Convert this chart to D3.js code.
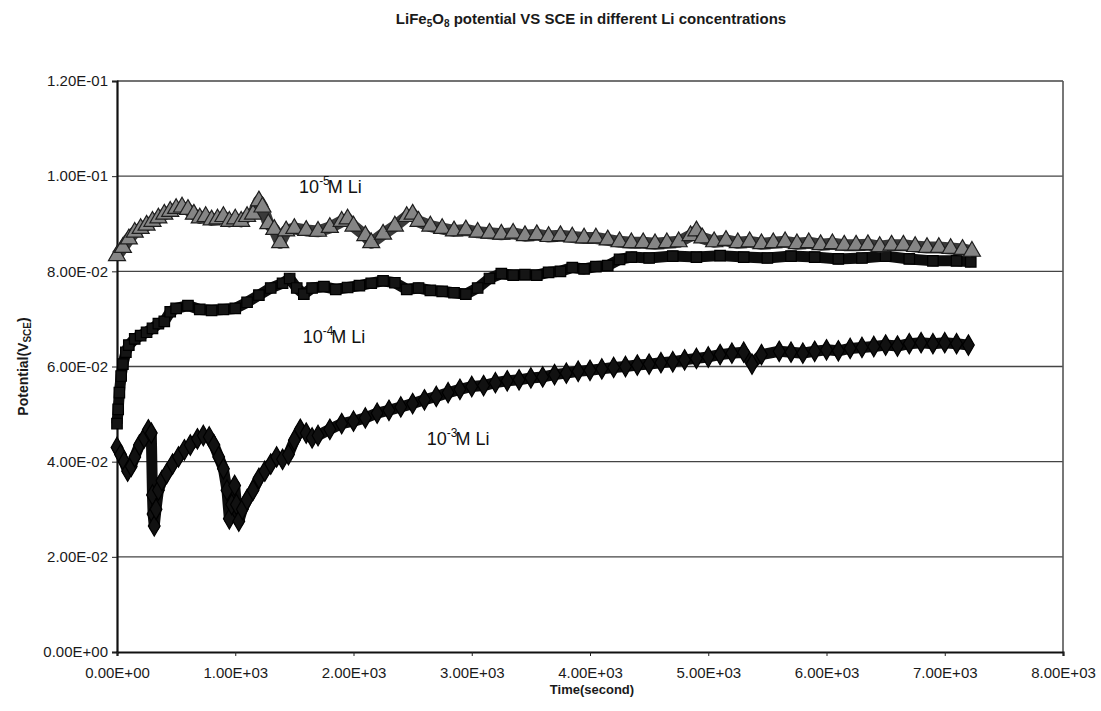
<!DOCTYPE html>
<html>
<head>
<meta charset="utf-8">
<script src="https://cdn.jsdelivr.net/npm/d3@7"></script>
<style>
  body { margin: 0; background: #fff; }
  svg { font-family: "Liberation Sans", Arial, sans-serif; }
</style>
</head>
<body>
<div id="chart"></div>
<script>
// x ticks (seconds) and y ticks (volts)
const xTicks = [0, 1000, 2000, 3000, 4000, 5000, 6000, 7000, 8000];
const yTicks = [0, 0.02, 0.04, 0.06, 0.08, 0.10, 0.12];

// 10^-5 M Li (grey triangles)
const t5 = [0,50,100,150,200,250,300,350,400,450,500,550,600,650,700,750,800,850,900,950,1000,1050,1100,1150,1200,1230,1280,1330,1380,1430,1500,1600,1700,1800,1900,1950,2000,2100,2150,2250,2350,2450,2500,2550,2650,2750,2850,2950,3050,3150,3250,3350,3450,3550,3650,3750,3850,3950,4050,4150,4250,4350,4450,4550,4650,4750,4850,4900,4950,5050,5150,5250,5350,5450,5550,5650,5750,5850,5950,6050,6150,6250,6350,6450,6550,6650,6750,6850,6950,7050,7150,7230];
const v5 = [0.0833,0.085,0.0868,0.0882,0.089,0.0897,0.0905,0.0912,0.092,0.0926,0.0932,0.0935,0.093,0.092,0.0912,0.0915,0.0908,0.091,0.0915,0.0905,0.091,0.0905,0.0915,0.092,0.0948,0.0935,0.09,0.0888,0.086,0.0885,0.089,0.0886,0.0884,0.0892,0.0905,0.091,0.0895,0.0875,0.086,0.0878,0.0895,0.0915,0.092,0.0905,0.0895,0.089,0.0885,0.0887,0.0882,0.088,0.0878,0.088,0.0875,0.0877,0.0873,0.0875,0.0872,0.087,0.087,0.0866,0.0862,0.086,0.086,0.0858,0.086,0.0862,0.0875,0.0885,0.087,0.0862,0.0865,0.086,0.0862,0.0858,0.086,0.0862,0.0858,0.086,0.0856,0.0858,0.0855,0.0855,0.0856,0.0852,0.0855,0.0855,0.0852,0.085,0.085,0.0848,0.0846,0.0842];

// 10^-4 M Li (black squares)
const t4 = [0,10,20,35,50,75,100,150,200,250,300,350,400,450,500,600,700,800,900,1000,1100,1200,1300,1400,1460,1520,1580,1650,1750,1850,1950,2050,2150,2250,2350,2450,2550,2650,2750,2850,2950,3050,3150,3250,3350,3450,3550,3650,3750,3850,3950,4050,4150,4250,4350,4500,4700,4900,5100,5300,5500,5700,5900,6100,6300,6500,6700,6900,7100,7220];
const v4 = [0.048,0.051,0.0545,0.058,0.0605,0.063,0.0645,0.0658,0.0665,0.0672,0.068,0.069,0.0695,0.0715,0.0722,0.0728,0.072,0.0718,0.072,0.0722,0.0735,0.075,0.0765,0.0775,0.0785,0.0765,0.0752,0.0765,0.0768,0.0762,0.0766,0.077,0.0775,0.078,0.0776,0.0762,0.0765,0.076,0.0758,0.0755,0.0752,0.0765,0.0785,0.0795,0.0792,0.0793,0.0792,0.0798,0.08,0.0808,0.0805,0.081,0.0812,0.0825,0.083,0.0828,0.0832,0.083,0.0833,0.083,0.0828,0.0832,0.083,0.0826,0.0828,0.0832,0.0826,0.0822,0.0822,0.082];

// 10^-3 M Li (black diamonds)
const t3 = [0,30,60,90,120,150,190,230,265,290,300,305,315,330,350,380,420,470,520,570,620,680,730,780,820,860,900,930,950,970,995,1010,1030,1060,1100,1150,1200,1250,1300,1350,1400,1450,1500,1550,1600,1650,1700,1800,1900,2000,2100,2200,2300,2400,2500,2600,2700,2800,2900,3000,3100,3200,3300,3400,3500,3600,3700,3800,3900,4000,4100,4200,4300,4400,4500,4600,4700,4800,4900,5000,5100,5200,5300,5370,5450,5600,5700,5800,5900,6000,6100,6200,6300,6400,6500,6600,6700,6800,6900,7000,7100,7200];
const v3 = [0.043,0.0415,0.04,0.038,0.039,0.041,0.0435,0.045,0.0467,0.046,0.033,0.029,0.0265,0.03,0.034,0.036,0.0375,0.0395,0.041,0.0425,0.0435,0.0448,0.0455,0.0452,0.0435,0.041,0.0385,0.034,0.028,0.031,0.035,0.031,0.0275,0.03,0.032,0.034,0.0365,0.038,0.0395,0.041,0.0405,0.0415,0.0445,0.0468,0.046,0.045,0.0455,0.0468,0.048,0.0485,0.0492,0.0502,0.0508,0.0515,0.0522,0.053,0.0537,0.0545,0.0552,0.0558,0.056,0.0566,0.057,0.0572,0.0576,0.0578,0.0583,0.0586,0.059,0.0592,0.0595,0.0598,0.06,0.0603,0.0605,0.0608,0.061,0.0614,0.0617,0.062,0.0625,0.0628,0.063,0.0605,0.0625,0.0632,0.063,0.0628,0.0632,0.0635,0.0633,0.0638,0.064,0.0642,0.0645,0.0643,0.0648,0.065,0.0648,0.065,0.0648,0.0645];

const width = 1101, height = 711;
const margin = { top: 81, right: 38, bottom: 59, left: 117 };
const w = width - margin.left - margin.right;
const h = height - margin.top - margin.bottom;

const svg = d3.select("#chart").append("svg")
  .attr("width", width)
  .attr("height", height);

svg.append("rect").attr("width", width).attr("height", height).attr("fill", "#fff");

const x = d3.scaleLinear().domain([0, 8000]).range([0, w]);
const y = d3.scaleLinear().domain([0, 0.12]).range([h, 0]);

const g = svg.append("g").attr("transform", `translate(${margin.left},${margin.top})`);

// gridlines
g.selectAll(".grid")
  .data(yTicks.filter(d => d > 0))
  .join("line")
  .attr("x1", 0).attr("x2", w)
  .attr("y1", d => y(d)).attr("y2", d => y(d))
  .attr("stroke", "#444").attr("stroke-width", 1.3);

// right border
g.append("line").attr("x1", w).attr("x2", w).attr("y1", 0).attr("y2", h)
  .attr("stroke", "#555").attr("stroke-width", 1.6);

// axes
const fmt = d => d.toExponential(2).replace(/e([+-])(\d)$/, "E$10$2").replace("e", "E");

const yAxis = g.append("g").call(d3.axisLeft(y).tickValues(yTicks).tickSize(5).tickPadding(4).tickFormat(fmt));
const xAxis = g.append("g").attr("transform", `translate(0,${h})`)
  .call(d3.axisBottom(x).tickValues(xTicks).tickSize(4).tickPadding(11).tickFormat(fmt));

[yAxis, xAxis].forEach(a => {
  a.select(".domain").attr("stroke", "#111").attr("stroke-width", 2.2);
  a.selectAll(".tick line").attr("stroke", "#222");
  a.selectAll("text").attr("fill", "#1a1a1a").style("font-size", "15px");
});

// series
const series = [
  { t: t3, v: v3, stroke: "#0d0d0d", sym: d3.symbolDiamond, fill: "#111", mstroke: "#000", size: 120, lw: 11 },
  { t: t4, v: v4, stroke: "#0d0d0d", sym: d3.symbolSquare, fill: "#151515", mstroke: "#000", size: 110, lw: 11 },
  { t: t5, v: v5, stroke: "#3a3a3a", sym: d3.symbolTriangle, fill: "#858585", mstroke: "#1e1e1e", size: 125, lw: 12 }
];

const line = d3.line().x(d => x(d[0])).y(d => y(d[1]));

series.forEach(s => {
  const pts = s.t.map((t, i) => [t, s.v[i]]);
  g.append("path")
    .datum(pts)
    .attr("d", line)
    .attr("fill", "none")
    .attr("stroke", s.stroke)
    .attr("stroke-width", s.lw)
    .attr("stroke-linejoin", "round");
  g.selectAll(null)
    .data(pts)
    .join("path")
    .attr("transform", d => `translate(${x(d[0])},${y(d[1])})`)
    .attr("d", d3.symbol().type(s.sym).size(s.size))
    .attr("fill", s.fill)
    .attr("stroke", s.mstroke)
    .attr("stroke-width", 1.2);
});

// series labels
const labels = [
  { exp: "-5", t: 1540, v: 0.0965 },
  { exp: "-4", t: 1570, v: 0.0650 },
  { exp: "-3", t: 2620, v: 0.0435 }
];
labels.forEach(l => {
  const txt = g.append("text")
    .attr("x", x(l.t)).attr("y", y(l.v))
    .attr("fill", "#111")
    .style("font-size", "18px");
  txt.append("tspan").text("10");
  txt.append("tspan").attr("dy", -8).style("font-size", "12px").text(l.exp);
  txt.append("tspan").attr("dy", 8).attr("dx", -2).text("M Li");
});

// title
const title = svg.append("text")
  .attr("x", 591).attr("y", 24)
  .attr("text-anchor", "middle")
  .attr("fill", "#1a1a1a")
  .style("font-size", "15px").style("font-weight", "bold");
title.append("tspan").text("LiFe");
title.append("tspan").attr("dy", 3).style("font-size", "10px").text("5");
title.append("tspan").attr("dy", -3).text("O");
title.append("tspan").attr("dy", 3).style("font-size", "10px").text("8");
title.append("tspan").attr("dy", -3).text(" potential VS SCE in different Li concentrations");

// axis titles
svg.append("text")
  .attr("x", margin.left + w / 2 + 2).attr("y", height - 17)
  .attr("text-anchor", "middle")
  .attr("fill", "#1a1a1a")
  .style("font-size", "13px").style("font-weight", "bold")
  .text("Time(second)");

const yl = svg.append("text")
  .attr("transform", `translate(28,${margin.top + h / 2}) rotate(-90)`)
  .attr("text-anchor", "middle")
  .attr("fill", "#1a1a1a")
  .style("font-size", "14px").style("font-weight", "bold");
yl.append("tspan").text("Potential(V");
yl.append("tspan").attr("dy", 3).style("font-size", "10px").text("SCE");
yl.append("tspan").attr("dy", -3).text(")");
</script>
</body>
</html>
